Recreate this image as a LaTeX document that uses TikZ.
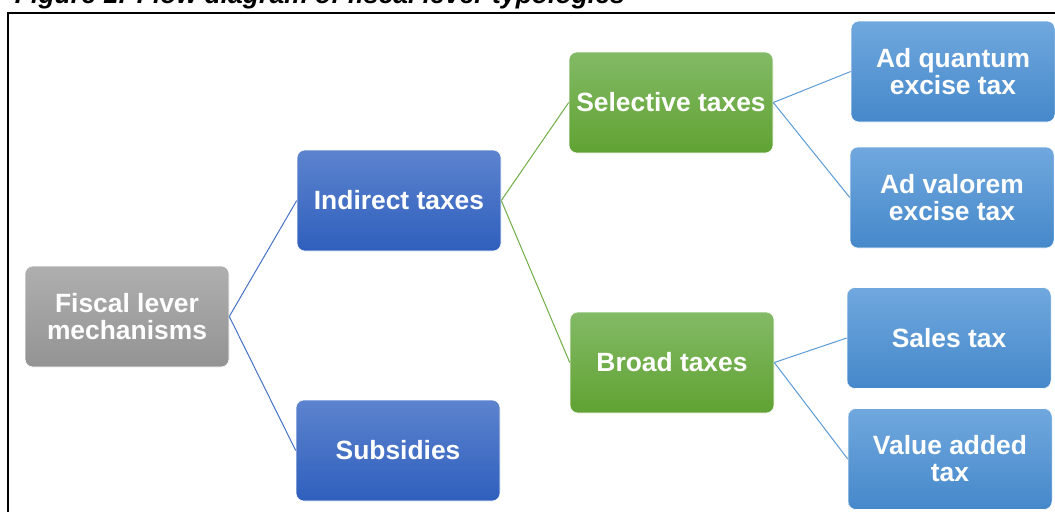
\documentclass[tikz,border=0pt]{standalone}
\usepackage{fontspec}
\setmainfont{Liberation Sans}

\definecolor{rootTop}{HTML}{AFAFAF}
\definecolor{rootBot}{HTML}{939393}
\definecolor{midTop}{HTML}{5C83CE}
\definecolor{midBot}{HTML}{2F5FBD}
\definecolor{grpTop}{HTML}{83BA66}
\definecolor{grpBot}{HTML}{60A232}
\definecolor{leafTop}{HTML}{70A8DE}
\definecolor{leafBot}{HTML}{4588CA}
\definecolor{midLine}{HTML}{4472C4}
\definecolor{grpLine}{HTML}{70AD47}
\definecolor{leafLine}{HTML}{5B9BD5}

\tikzset{every picture/.style={line width=0.75pt}}
\tikzset{
  box/.style={rounded corners=6pt, draw=white, line width=0.4pt,
    minimum width=153pt, minimum height=75.75pt, inner sep=2pt,
    align=center, text=white,
    font=\bfseries\fontsize{19.8}{20.3}\selectfont},
  rootbox/.style={box, top color=rootTop, bottom color=rootBot},
  midbox/.style={box, top color=midTop, bottom color=midBot},
  grpbox/.style={box, top color=grpTop, bottom color=grpBot},
  leafbox/.style={box, top color=leafTop, bottom color=leafBot},
}

\begin{document}
\begin{tikzpicture}[x=0.75pt,y=0.75pt,yscale=-1,xscale=1]
\useasboundingbox (0,0) rectangle (1055,511);
\clip (0,0) rectangle (1055,511);

% caption, cut by the top edge
\draw (10,3.5) node [anchor=base west,font=\bfseries\itshape\fontsize{19.9}{22}\selectfont] (caption) {Figure 1: Flow diagram of fiscal lever typologies};

% frame
\draw [line width=1.5pt] (8,1000) -- (8,13) -- (2000,13) ;

% Root
\draw (127,316.5) node [rootbox] (root) {Fiscal lever\\mechanisms};
% Second level
\draw (399,200.5) node [midbox] (indirect) {Indirect taxes};
\draw (398,450.5) node [midbox] (subsidies) {Subsidies};
% Third level
\draw (671,102.5) node [grpbox] (selective) {Selective taxes};
\draw (672,362.5) node [grpbox] (broad) {Broad taxes};
% Leaves
\draw (953,71.5) node [leafbox] (adquantum) {Ad quantum\\excise tax};
\draw (952,197.5) node [leafbox] (advalorem) {Ad valorem\\excise tax};
\draw (949,338) node [leafbox] (sales) {Sales tax};
\draw (950,459) node [leafbox] (vat) {Value added\\tax};

% Connectors
\draw [midLine] (root.east) -- (indirect.west) ;
\draw [midLine] (root.east) -- (subsidies.west) ;
\draw [grpLine] (indirect.east) -- (selective.west) ;
\draw [grpLine] (indirect.east) -- (broad.west) ;
\draw [leafLine] (selective.east) -- (adquantum.west) ;
\draw [leafLine] (selective.east) -- (advalorem.west) ;
\draw [leafLine] (broad.east) -- (sales.west) ;
\draw [leafLine] (broad.east) -- (vat.west) ;

\end{tikzpicture}
\end{document}
